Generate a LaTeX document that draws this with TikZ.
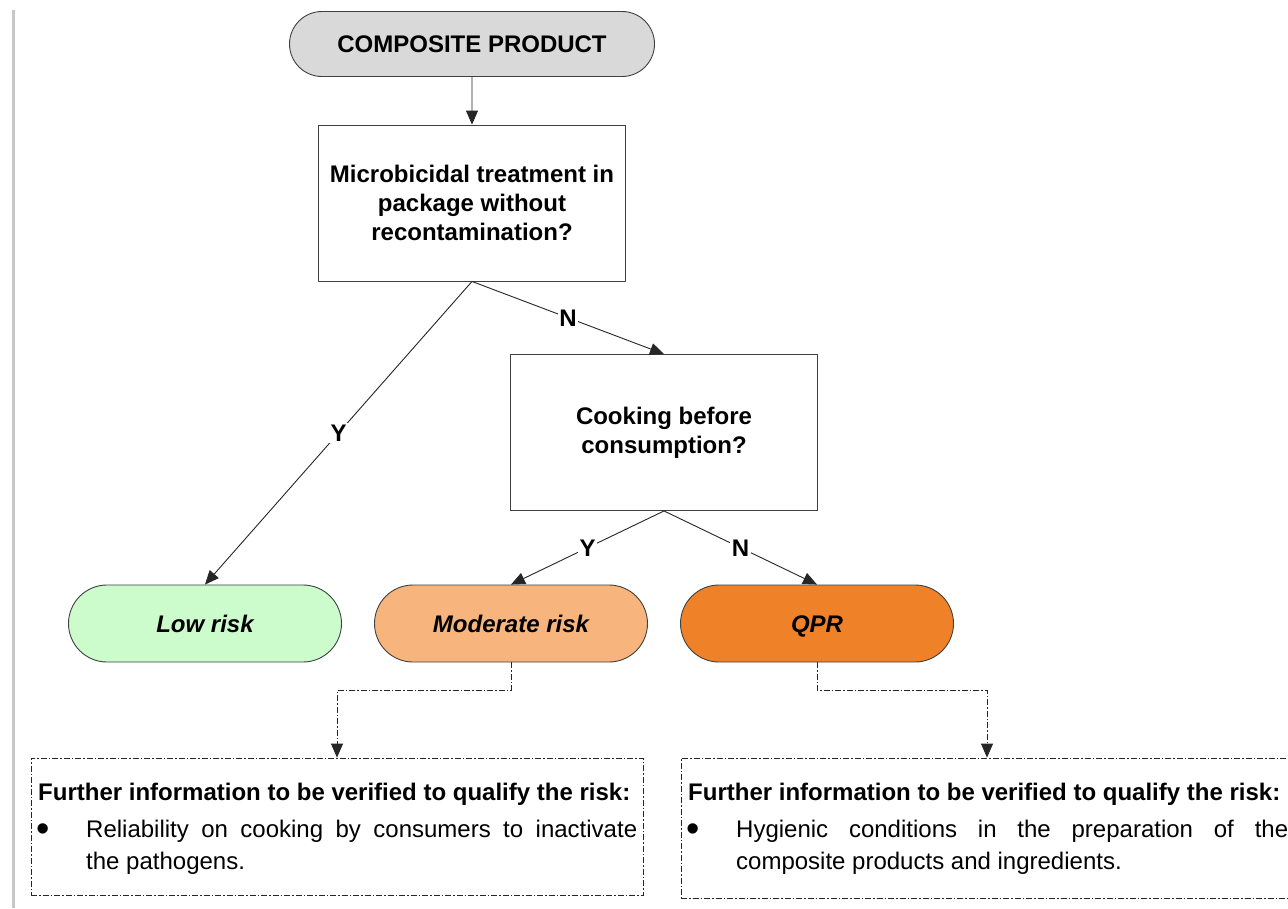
\documentclass[tikz,border=0pt]{standalone}
\usepackage{fontspec}
\setmainfont{Liberation Sans}
\usetikzlibrary{arrows.meta,shapes.misc}
\definecolor{linec}{HTML}{404040}
\definecolor{topgray}{HTML}{D9D9D9}
\definecolor{lowc}{HTML}{CCFBCC}
\definecolor{modc}{HTML}{F7B47C}
\definecolor{qprc}{HTML}{EF8229}
\begin{document}
\begin{tikzpicture}[x=1pt,y=-1pt,
  stadium/.style={rounded rectangle, draw=linec, line width=0.9pt, inner sep=0pt,
    font=\bfseries\fontsize{24}{29}\selectfont},
  qbox/.style={rectangle, draw=linec, line width=0.9pt, fill=white, inner sep=0pt,
    minimum width=307pt, minimum height=156pt, align=center,
    font=\bfseries\fontsize{24}{29}\selectfont},
  risk/.style={stadium, minimum width=273pt, minimum height=77pt,
    text height=17.5pt, text depth=0pt,
    font=\bfseries\itshape\fontsize{24}{29}\selectfont},
  arr/.style={draw=black!85, line width=0.9pt, -{Triangle[length=14pt,width=12pt]}},
  darr/.style={draw=black!85, line width=0.8pt, dash pattern=on 6pt off 2pt on 1.5pt off 2pt,
    -{Triangle[length=14pt,width=12pt]}},
  lab/.style={fill=white, inner sep=1.5pt, font=\bfseries\fontsize{24}{24}\selectfont},
  infobox/.style={rectangle, draw=black!85, line width=0.8pt,
    dash pattern=on 6pt off 2pt on 1.5pt off 2pt, minimum width=612pt},
  head/.style={anchor=base west, inner sep=0pt, font=\bfseries\fontsize{24}{32}\selectfont},
  body/.style={anchor=base west, inner sep=0pt, font=\fontsize{24}{32}\selectfont},
  bul/.style={anchor=base west, inner sep=0pt, font=\fontsize{38}{38}\selectfont}
]
\useasboundingbox (0,0) rectangle (1288,908);
\clip (0,0) rectangle (1288,908);
\fill[white] (0,0) rectangle (1288,908);
\draw[black!22, line width=3pt] (13,10) -- (13,908);

\node[stadium, fill=topgray, minimum width=365pt, minimum height=65pt] (top) at (472,44) {COMPOSITE PRODUCT};
\node[qbox] (q1) at (472,203) {Microbicidal treatment in\\package without\\recontamination?};
\node[qbox] (q2) at (664,432.5) {Cooking before\\consumption?};
\node[risk, fill=lowc] (low) at (205,623.5) {Low risk};
\node[risk, fill=modc] (mod) at (511,623.5) {Moderate risk};
\node[risk, fill=qprc] (qpr) at (817,623.5) {QPR};

\draw[arr] (top) -- (q1);
\draw[arr] (q1.south) -- node[lab] {Y} (low.north);
\draw[arr] (q1.south) -- node[lab] {N} (q2.north);
\draw[arr] (q2.south) -- node[lab] {Y} (mod.north);
\draw[arr] (q2.south) -- node[lab] {N} (qpr.north);

\node[infobox, minimum height=137pt] (info1) at (337,826.5) {};
\node[infobox, minimum height=140pt] (info2) at (987,828) {};

\draw[darr] (mod.south) -- ++(0,28) -| (info1.north);
\draw[darr] (qpr.south) -- ++(0,28) -| (info2.north);

\node[head] (h1) at (38,800) {Further information to be verified to qualify the risk:};
\node[bul] (b1) at (36,841) {•};
\node[body] (t1) at (86,837) {\parbox[t]{551pt}{Reliability on cooking by consumers to inactivate\linebreak the pathogens.}};

\node[head] (h2) at (688,800) {Further information to be verified to qualify the risk:};
\node[bul] (b2) at (686,841) {•};
\node[body] (t2) at (736,837) {\parbox[t]{552pt}{Hygienic conditions in the preparation of the\linebreak composite products and ingredients.}};
\end{tikzpicture}
\end{document}
